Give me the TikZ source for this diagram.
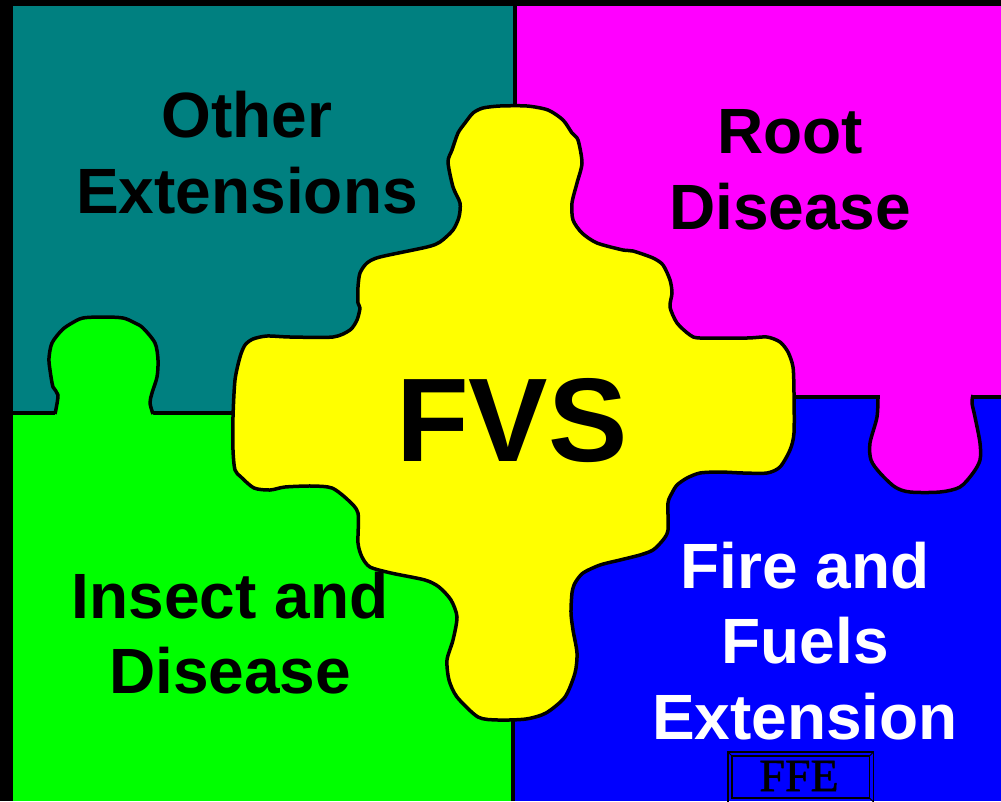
\documentclass[tikz,border=0pt]{standalone}
\usepackage{fontspec}
\setmainfont{Liberation Sans}
\newfontfamily\ffeserif{Liberation Serif}[FakeBold=1.2]
\definecolor{tealc}{HTML}{008080}
\definecolor{magc}{HTML}{FF00FF}
\definecolor{greenc}{HTML}{00FF00}
\definecolor{bluec}{HTML}{0000FF}
\definecolor{yellowc}{HTML}{FFFF00}
\begin{document}
\begin{tikzpicture}[x=1pt,y=-1pt,
  seam/.style={draw=black,line width=3.5pt},
  outline/.style={draw=black,line width=3.5pt,line join=round},
  lbl/.style={font=\fontsize{64}{76}\selectfont\bfseries,anchor=base,inner sep=0pt,text=black},
  wlbl/.style={lbl,text=white},
  biglbl/.style={font=\fontsize{119}{130}\selectfont\bfseries,anchor=base,inner sep=0pt,text=black},
  ffelbl/.style={font=\fontsize{46}{50}\selectfont\ffeserif,anchor=base,inner sep=0pt,text depth=0pt,text=black}]
\useasboundingbox (0,0) rectangle (1001,801);
\fill[black] (0,0) rectangle (1001,801);
% quadrants
\fill[tealc] (13,6) rectangle (515,413);
\fill[magc] (515,6) rectangle (1001,397);
\fill[greenc] (13,413) rectangle (513,801);
\fill[bluec] (513,397) rectangle (1001,801);
% seams
\draw[seam] (13,413) -- (300,413);
\draw[seam] (515,6) -- (515,200);
\draw[seam] (700,397) -- (1001,397);
\draw[seam] (513,650) -- (513,801);
% green tab into teal
\fill[greenc] plot[smooth,tension=0.5] coordinates {(55,414) (58,395) (53,387) (50,370) (49,358) (52,343) (62,330) (72,323) (83,318) (103,317) (123,318) (135,323) (143,328) (155,343) (158,360) (157,377) (152,393) (150,403) (153,414)} -- (153,417) -- (55,417) -- cycle;
\draw[outline] plot[smooth,tension=0.5] coordinates {(55,414) (58,395) (53,387) (50,370) (49,358) (52,343) (62,330) (72,323) (83,318) (103,317) (123,318) (135,323) (143,328) (155,343) (158,360) (157,377) (152,393) (150,403) (153,414)};
% magenta tab into blue
\fill[magc] plot[smooth,tension=0.5] coordinates {(878,395) (877,417) (870,443) (871,460) (880,473) (895,487) (910,492) (940,492) (960,487) (973,473) (980,460) (980,443) (975,417) (972,403) (973,395)} -- (973,393) -- (878,393) -- cycle;
\draw[outline] plot[smooth,tension=0.5] coordinates {(878,395) (877,417) (870,443) (871,460) (880,473) (895,487) (910,492) (940,492) (960,487) (973,473) (980,460) (980,443) (975,417) (972,403) (973,395)};
% central yellow piece
\filldraw[outline,fill=yellowc] plot[smooth cycle,tension=0.45] coordinates {
 (500,106) (527,106) (548,110) (563,120) (572,133) (578,140) (582,163) (577,183) (572,203) (573,220) (582,233) (597,243) (623,250) (633,251) (653,258) (663,265) (670,280) (672,293) (670,307) (677,323) (690,335) (700,338) (747,338) (767,337) (780,342) (788,352) (793,367) (794,393) (794,433) (790,450) (780,467) (767,473) (743,473) (720,472) (700,473) (687,478) (677,485) (672,493) (668,503) (668,530) (663,540) (653,550) (640,555) (620,560) (600,565) (583,573) (575,583) (572,593) (571,613) (573,630) (577,653) (575,673) (565,697) (546,713) (526,719) (498,720) (478,717) (457,697) (449,680) (447,660) (453,640) (457,617) (451,600) (439,587) (425,580) (391,573) (370,567) (362,557) (358,543) (358,513) (348,500) (332,488) (312,486) (285,487) (270,490) (254,488) (241,477) (235,470) (233,450) (233,417) (235,380) (240,357) (245,345) (253,339) (267,336) (290,337) (333,337) (350,330) (357,320) (360,308) (358,303) (358,287) (360,273) (367,263) (380,257) (427,247) (440,242) (453,230) (459,217) (460,203) (453,187) (448,162) (452,150) (458,133) (465,123) (473,113) (483,108)};
% labels
\node[lbl] (other1) at (247,137) {Other};
\node[lbl] (other2) at (247,213) {Extensions};
\node[lbl] (root1) at (790,153) {Root};
\node[lbl] (root2) at (790,229) {Disease};
\node[lbl] (insect1) at (230,618) {Insect and};
\node[lbl] (insect2) at (230,693) {Disease};
\node[wlbl] (fire1) at (805,588) {Fire and};
\node[wlbl] (fire2) at (805,663) {Fuels};
\node[wlbl] (fire3) at (805,739) {Extension};
\node[biglbl] (fvs) at (512,461) {FVS};
% FFE button
\draw[black,line width=1.4pt] (728,752) rectangle (873.5,806);
\draw[black,line width=1.4pt] (732,756) rectangle (869.5,798);
\draw[black,line width=0.8pt] (728,752) -- (732,756) (873.5,752) -- (869.5,756) (869.5,798) -- (873.5,802);
\node[ffelbl] (ffe) at (799,791) {FFE};
\end{tikzpicture}
\end{document}
